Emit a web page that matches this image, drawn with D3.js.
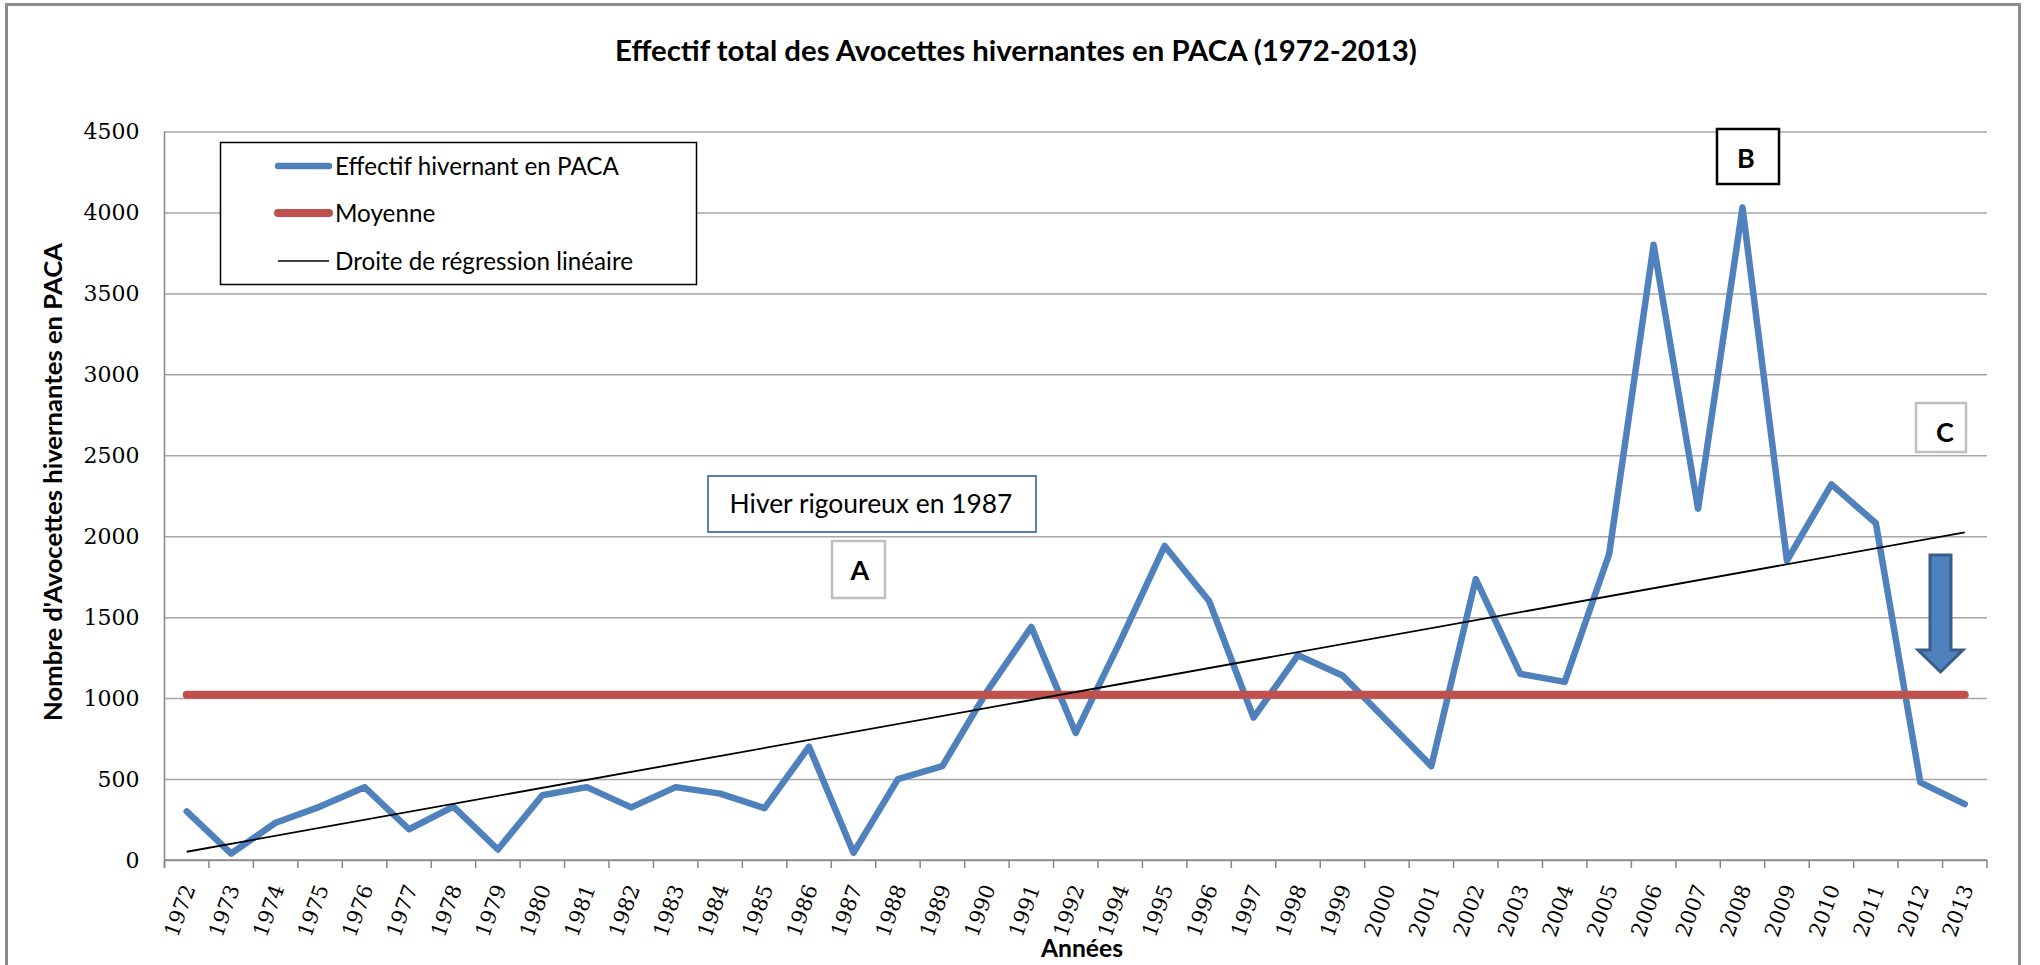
<!DOCTYPE html>
<html>
<head>
<meta charset="utf-8">
<script src="https://cdn.jsdelivr.net/npm/d3@7"></script>
<style>
  html, body { margin: 0; padding: 0; background: #fff; }
  svg { display: block; }
</style>
</head>
<body>
<svg id="chart" width="2040" height="965"></svg>
<script>
// ---------------- DATA ----------------
const years = ["1972","1973","1974","1975","1976","1977","1978","1979","1980","1981",
  "1982","1983","1984","1985","1986","1987","1988","1989","1990","1991","1992",
  "1994","1995","1996","1997","1998","1999","2000","2001","2002","2003","2004",
  "2005","2006","2007","2008","2009","2010","2011","2012","2013"];
const effectif = [300, 40, 230, 330, 450, 190, 330, 65, 400, 450,
  325, 450, 410, 320, 700, 45, 500, 580, 1040, 1440, 785,
  1350, 1940, 1600, 880, 1265, 1140, 860, 580, 1735, 1150, 1100,
  1890, 3800, 2170, 4030, 1850, 2320, 2080, 480, 345];
const moyenne = 1020;
const regressionEnds = [51, 2024];   // values of the trend line at first and last year
const yTickValues = [0, 500, 1000, 1500, 2000, 2500, 3000, 3500, 4000, 4500];
const legendLabels = ["Effectif hivernant en PACA", "Moyenne", "Droite de régression linéaire"];
const titleText = "Effectif total des Avocettes hivernantes en PACA (1972-2013)";
const yTitle = "Nombre d'Avocettes hivernantes en PACA";
const xTitle = "Années";

// ---------------- LAYOUT ----------------
const svg = d3.select("#chart");
const L = 164.5, R = 1987, T = 131.5, B = 860;
const sansFont = "Lato, 'Open Sans', sans-serif";
const serifFont = "'DejaVu Serif', 'Liberation Serif', serif";
const blue = "#4F81BD", red = "#C0504D";

const x = d3.scaleBand().domain(years).range([L, R]).paddingInner(0).paddingOuter(0);
const y = d3.scaleLinear().domain([0, 4500]).range([B, T]);
const cx = d => x(d) + x.bandwidth() / 2;

function fit(sel, w) {
  const len = sel.node().getComputedTextLength();
  const fs = parseFloat(sel.attr("font-size"));
  sel.attr("font-size", (fs * w / len).toFixed(2));
  return fs * w / len;
}

// outer frame
svg.append("rect").attr("x", 6.5).attr("y", 4.5).attr("width", 2013).attr("height", 1000)
  .attr("fill", "none").attr("stroke", "#8c8c8c").attr("stroke-width", 3);

// title
const title = svg.append("text").attr("x", 1016).attr("y", 61).attr("text-anchor", "middle")
  .attr("font-family", sansFont).attr("font-weight", "bold").attr("font-size", 26)
  .attr("fill", "#000").text(titleText);
fit(title, 802);

// gridlines
const grid = svg.append("g").attr("transform", `translate(${L},0)`)
  .call(d3.axisLeft(y).tickValues(yTickValues).tickSize(-(R - L)).tickFormat(""));
grid.select(".domain").remove();
grid.selectAll(".tick line").attr("stroke", "#a6a6a6").attr("stroke-width", 1.5);

// y tick labels
const yAx = svg.append("g").attr("transform", `translate(${L},0)`)
  .call(d3.axisLeft(y).tickValues(yTickValues).tickSize(0).tickPadding(25).tickFormat(d3.format("d")));
yAx.select(".domain").remove();
yAx.selectAll("text").attr("font-family", serifFont).attr("font-size", 22).attr("fill", "#000");

// y axis line (extends a bit below 0)
svg.append("line").attr("x1", L).attr("x2", L).attr("y1", T).attr("y2", B + 8)
  .attr("stroke", "#868686").attr("stroke-width", 1.5);

// x axis line and ticks at band boundaries
svg.append("line").attr("x1", L).attr("x2", R).attr("y1", B).attr("y2", B)
  .attr("stroke", "#868686").attr("stroke-width", 1.5);
const bounds = years.map(d => x(d)).concat([x.range()[1]]);
svg.append("g").selectAll("line").data(bounds).join("line")
  .attr("x1", d => d).attr("x2", d => d).attr("y1", B).attr("y2", B + 8)
  .attr("stroke", "#868686").attr("stroke-width", 1.5);

// x tick labels (rotated)
svg.append("g").selectAll("text").data(years).join("text")
  .attr("transform", d => `translate(${cx(d) + 9},${B + 28}) rotate(-70)`)
  .attr("text-anchor", "end")
  .attr("font-family", serifFont).attr("font-size", 21).attr("fill", "#000")
  .text(d => d);

// axis titles
const yt = svg.append("text").attr("transform", `translate(62,482) rotate(-90)`)
  .attr("text-anchor", "middle").attr("font-family", sansFont).attr("font-weight", "bold")
  .attr("font-size", 24).attr("fill", "#000").text(yTitle);
fit(yt, 478);
const xt = svg.append("text").attr("x", 1082).attr("y", 957).attr("text-anchor", "middle")
  .attr("font-family", sansFont).attr("font-weight", "bold").attr("font-size", 24)
  .attr("fill", "#000").text(xTitle);
fit(xt, 82);

// series
const lineGen = d3.line().x((d, i) => cx(years[i])).y(d => y(d));
svg.append("path").datum(effectif).attr("d", lineGen)
  .attr("fill", "none").attr("stroke", blue).attr("stroke-width", 6.5)
  .attr("stroke-linejoin", "round").attr("stroke-linecap", "round");

svg.append("line")
  .attr("x1", cx(years[0])).attr("x2", cx(years[years.length - 1]))
  .attr("y1", y(moyenne)).attr("y2", y(moyenne))
  .attr("stroke", red).attr("stroke-width", 8).attr("stroke-linecap", "round");

svg.append("line")
  .attr("x1", cx(years[0])).attr("x2", cx(years[years.length - 1]))
  .attr("y1", y(regressionEnds[0])).attr("y2", y(regressionEnds[1]))
  .attr("stroke", "#000").attr("stroke-width", 1.8);

// legend
const lg = svg.append("g");
lg.append("rect").attr("x", 220.5).attr("y", 142.5).attr("width", 476).attr("height", 142)
  .attr("fill", "#fff").attr("stroke", "#000").attr("stroke-width", 1.5);
const legendStyles = [
  {c: blue, w: 6.5, cap: "round"},
  {c: red, w: 8, cap: "round"},
  {c: "#000", w: 1.5, cap: "butt"}
];
const rowsY = [166, 213, 261];
let legendFs = null;
legendLabels.forEach((lab, i) => {
  lg.append("line").attr("x1", 278).attr("x2", 329).attr("y1", rowsY[i]).attr("y2", rowsY[i])
    .attr("stroke", legendStyles[i].c).attr("stroke-width", legendStyles[i].w)
    .attr("stroke-linecap", legendStyles[i].cap);
  const t = lg.append("text").attr("x", 335).attr("y", rowsY[i]).attr("dy", "0.36em")
    .attr("font-family", sansFont).attr("font-size", legendFs || 25).attr("fill", "#000").text(lab);
  if (i === 0) legendFs = fit(t, 284);
});

// annotations
function box(x0, y0, w, h, stroke, sw) {
  svg.append("rect").attr("x", x0).attr("y", y0).attr("width", w).attr("height", h)
    .attr("fill", "#fff").attr("stroke", stroke).attr("stroke-width", sw);
}
box(708, 476, 328, 56, blue, 2);
const hv = svg.append("text").attr("x", 871).attr("y", 513).attr("text-anchor", "middle")
  .attr("font-family", sansFont).attr("font-size", 27).attr("fill", "#000")
  .text("Hiver rigoureux en 1987");
fit(hv, 283);

box(832, 541, 53, 57, "#bfbfbf", 2.5);
svg.append("text").attr("x", 860).attr("y", 580).attr("text-anchor", "middle")
  .attr("font-family", sansFont).attr("font-weight", "bold").attr("font-size", 27).text("A");

box(1717, 129, 62, 55, "#000", 2.5);
svg.append("text").attr("x", 1746).attr("y", 168).attr("text-anchor", "middle")
  .attr("font-family", sansFont).attr("font-weight", "bold").attr("font-size", 27).text("B");

box(1916, 403, 50, 49, "#bfbfbf", 2.5);
svg.append("text").attr("x", 1945).attr("y", 442).attr("text-anchor", "middle")
  .attr("font-family", sansFont).attr("font-weight", "bold").attr("font-size", 27).text("C");

// down arrow
svg.append("path")
  .attr("d", "M1930,555 L1951,555 L1951,650 L1963,650 L1940.5,672 L1918,650 L1930,650 Z")
  .attr("fill", blue).attr("stroke", "#385D8A").attr("stroke-width", 3).attr("stroke-linejoin", "miter");
</script>
</body>
</html>
